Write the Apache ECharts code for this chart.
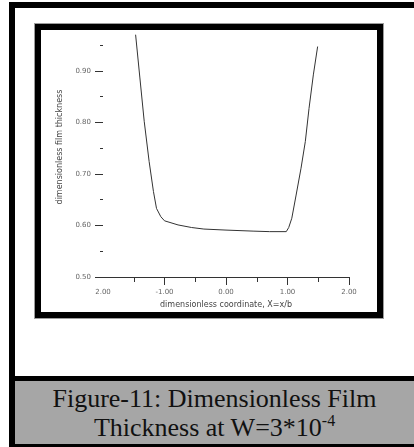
<!DOCTYPE html>
<html>
<head>
<meta charset="utf-8">
<script src="https://cdn.jsdelivr.net/npm/echarts@6/dist/echarts.min.js"></script>
<style>
    html, body { margin: 0; padding: 0; background: #fff; }
    body { width: 414px; height: 447px; position: relative; overflow: hidden; }
    .blk { position: absolute; background: #000; }
    #frame {
        position: absolute; left: 34px; top: 23px; width: 350px; height: 296px;
        border: 1px solid #9c9c9c; box-sizing: border-box;
    }
    #frame div { width: 100%; height: 100%; border: 6px solid #000; box-sizing: border-box; }
    #caption {
        position: absolute; left: 15px; top: 381px; width: 399px; height: 63px;
        background: #a6a6a6; box-sizing: border-box; padding-top: 3px;
        font-family: "Liberation Serif", serif; font-size: 26px; line-height: 29px;
        text-align: center; color: #111;
    }
    #caption sup { font-size: 16px; line-height: 0; vertical-align: 10px; }
    #chart { position: absolute; left: 0; top: 0; width: 414px; height: 447px; }
</style>
</head>
<body>
<div class="blk" style="left:9px;top:2px;width:405px;height:6px"></div>
<div class="blk" style="left:9px;top:2px;width:6px;height:445px"></div>
<div class="blk" style="left:9px;top:376px;width:405px;height:5px"></div>
<div class="blk" style="left:9px;top:444px;width:405px;height:3px"></div>
<div id="frame"><div></div></div>
<div id="caption">Figure-11: Dimensionless Film<br>Thickness at W=3*10<sup>-4</sup></div>
<div id="chart"></div>

<script>
// X = x/b along the contact
const xCoord = [-1.47, -1.40, -1.33, -1.25, -1.18, -1.13, -1.06, -1.00, -0.78, -0.56, -0.36,
    0.00, 0.44, 0.71, 0.98, 1.02, 1.07, 1.14, 1.22, 1.29, 1.35, 1.42, 1.49];
const filmThickness = [0.970, 0.886, 0.802, 0.724, 0.666, 0.633, 0.617, 0.609, 0.601, 0.596, 0.593,
    0.591, 0.589, 0.588, 0.588, 0.596, 0.614, 0.659, 0.711, 0.763, 0.827, 0.892, 0.947];

const xMajorTicks = [-1, 0, 1, 2];
const xTickLabels = ['2.00', '-1.00', '0.00', '1.00', '2.00'];   // for -2 .. 2, as printed
const yMajorTicks = [0.5, 0.6, 0.7, 0.8, 0.9];
const yMinorTicks = [0.55, 0.65, 0.75, 0.85, 0.95];

const smallFont = { fontFamily: 'DejaVu Sans', fontSize: 7, color: '#666' };
const titleFont = { fontFamily: 'DejaVu Sans', fontSize: 8, color: '#444' };

let myChart = echarts.init(document.getElementById('chart'));
myChart.setOption({
    animation: false,
    grid: { left: 103, top: 45, width: 246, height: 232, containLabel: false },
    xAxis: {
        type: 'value',
        min: -2,
        max: 2,
        interval: 1,
        name: 'dimensionless coordinate, X=x/b',
        nameLocation: 'middle',
        nameGap: 21,
        nameTextStyle: titleFont,
        splitLine: { show: false },
        axisLine: { onZero: false, lineStyle: { color: '#333', width: 1 } },
        axisTick: { customValues: xMajorTicks, length: 8, lineStyle: { color: '#333' } },
        minorTick: { show: true, splitNumber: 2, length: 5, lineStyle: { color: '#333' } },
        axisLabel: {
            ...smallFont,
            margin: 12,
            formatter: v => xTickLabels[Math.round(v) + 2]
        }
    },
    yAxis: [
        {
            type: 'value',
            min: 0.5,
            max: 0.95,
            interval: 0.05,
            position: 'left',
            name: 'dimensionless film thickness',
            nameLocation: 'middle',
            nameGap: 39,
            nameTextStyle: { ...titleFont, padding: [0, 0, 0, 28] },
            splitLine: { show: false },
            axisLine: { show: false, onZero: false },
            axisTick: { customValues: yMajorTicks, length: 8, lineStyle: { color: '#333' } },
            axisLabel: {
                ...smallFont,
                margin: 12,
                customValues: yMajorTicks,
                formatter: v => v.toFixed(2)
            }
        },
        {
            // minor ticks only
            type: 'value',
            min: 0.5,
            max: 0.95,
            interval: 0.05,
            position: 'left',
            splitLine: { show: false },
            axisLine: { show: false, onZero: false },
            axisTick: { customValues: yMinorTicks, length: 3, lineStyle: { color: '#333' } },
            axisLabel: { show: false }
        }
    ],
    series: [{
        type: 'line',
        data: xCoord.map((x, i) => [x, filmThickness[i]]),
        showSymbol: false,
        clip: false,
        lineStyle: { color: '#333', width: 1 }
    }]
});
</script>
</body>
</html>
